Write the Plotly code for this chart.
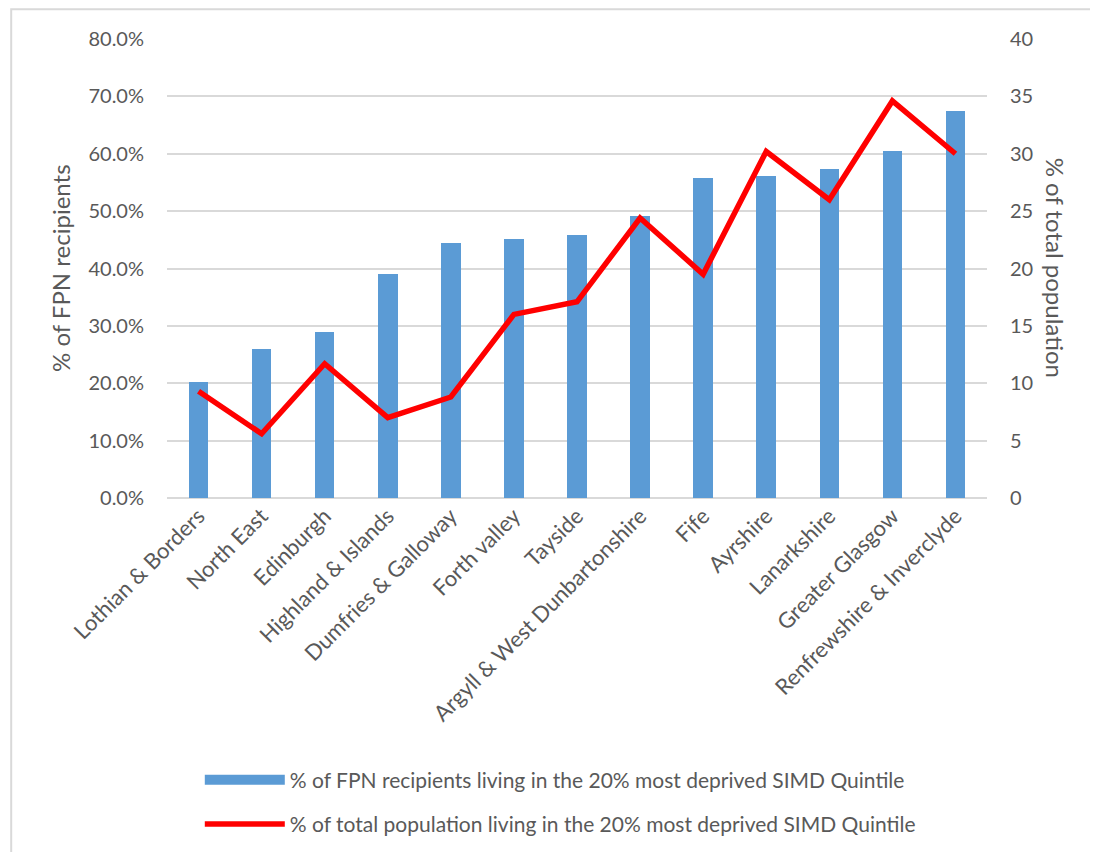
import plotly.graph_objects as go

# divisions, in the order shown
divisions = [
    "Lothian & Borders", "North East", "Edinburgh", "Highland & Islands",
    "Dumfries & Galloway", "Forth valley", "Tayside",
    "Argyll & West Dunbartonshire", "Fife", "Ayrshire", "Lanarkshire",
    "Greater Glasgow", "Renfrewshire & Inverclyde",
]
# % of FPN recipients in the 20% most deprived quintile (left axis)
fpn_pct = [20.2, 26.0, 28.9, 39.0, 44.4, 45.1, 45.8, 49.1, 55.7, 56.1, 57.3, 60.5, 67.4]
# % of total population in the 20% most deprived quintile (right axis)
pop_pct = [9.3, 5.6, 11.7, 7.0, 8.8, 16.0, 17.1, 24.4, 19.5, 30.2, 26.0, 34.6, 30.0]

bar_name = "% of FPN recipients living in the 20% most deprived SIMD Quintile"
line_name = "% of total population living in the 20% most deprived SIMD Quintile"

grey = "#595959"
grid = "#d9d9d9"
blue = "#5b9bd5"
font = "Lato, Calibri, sans-serif"

fig = go.Figure()
fig.add_trace(go.Bar(
    x=divisions, y=fpn_pct, name=bar_name,
    marker=dict(color=blue, line=dict(width=0)),
    width=0.31, showlegend=False,
))
# legend key for the bars: a thick line gives the wide Excel-style swatch
fig.add_trace(go.Scatter(
    x=[None], y=[None], name=bar_name, mode="lines",
    line=dict(color=blue, width=17), legendgroup="a",
))
fig.add_trace(go.Scatter(
    x=divisions, y=pop_pct, name=line_name, yaxis="y2",
    mode="lines", line=dict(color="#ff0000", width=5.5),
    legendgroup="b",
))

# page body adds 8px, so the figure is drawn 8px smaller
fig.update_layout(
    width=1090, height=844,
    margin=dict(l=159, r=111, t=31, b=354, autoexpand=False),
    paper_bgcolor="white", plot_bgcolor="white",
    font=dict(family=font, size=20, color=grey),
    showlegend=True,
    legend=dict(
        orientation="v", x=0.04, xanchor="left", y=-0.57, yanchor="top",
        font=dict(size=21, color=grey), tracegroupgap=14, itemwidth=80,
        traceorder="grouped", bgcolor="rgba(0,0,0,0)",
    ),
    xaxis=dict(
        tickangle=-45, showgrid=False, showline=False, ticks="",
        tickfont=dict(size=22, color=grey),
    ),
    yaxis=dict(
        range=[0, 80], dtick=10, tickformat=".1f", ticksuffix="%",
        showgrid=True, gridcolor=grid, gridwidth=1.5,
        zeroline=True, zerolinecolor=grid, zerolinewidth=1.5,
        showline=False, ticklabelstandoff=22,
        tickfont=dict(size=20, color=grey),
    ),
    yaxis2=dict(
        range=[0, 40], dtick=5, overlaying="y", side="right",
        showgrid=False, zeroline=False, showline=False,
        ticklabelstandoff=22, tickfont=dict(size=20, color=grey),
    ),
    bargap=0.0,
    annotations=[
        dict(text="% of FPN recipients", textangle=-90, xref="paper", yref="paper",
             x=-0.13, y=0.502, xanchor="center", yanchor="middle",
             showarrow=False, font=dict(size=24, color=grey)),
        dict(text="% of total population", textangle=90, xref="paper", yref="paper",
             x=1.084, y=0.502, xanchor="center", yanchor="middle",
             showarrow=False, font=dict(size=24, color=grey)),
    ],
    shapes=[
        dict(type="rect", xref="paper", yref="paper",
             x0=-0.19, x1=1.14, y0=-0.79, y1=1.065,
             line=dict(color=grid, width=2), layer="below"),
    ],
)

fig.write_html("out.html")
